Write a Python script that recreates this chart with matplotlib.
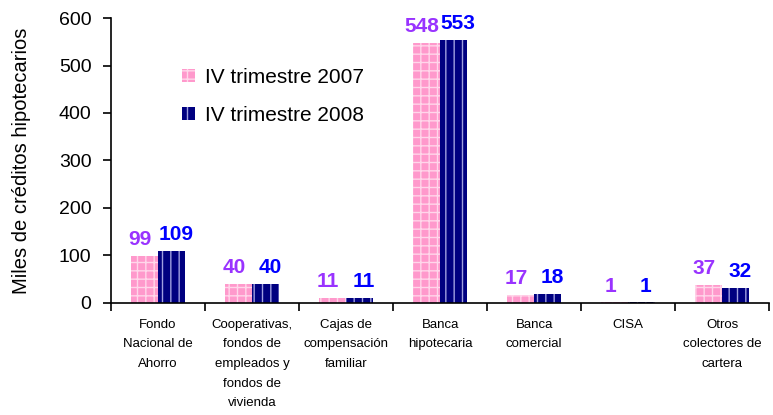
import numpy as np
import matplotlib.pyplot as plt

plt.rcParams['font.family'] = ['Liberation Sans', 'DejaVu Sans']
plt.rcParams['hatch.linewidth'] = 1.0

# data
categories = ['Fondo\nNacional de\nAhorro',
              'Cooperativas,\nfondos de\nempleados y\nfondos de\nvivienda',
              'Cajas de\ncompensación\nfamiliar',
              'Banca\nhipotecaria',
              'Banca\ncomercial',
              'CISA',
              'Otros\ncolectores de\ncartera']
vals_2007 = [99, 40, 11, 548, 17, 1, 37]
vals_2008 = [109, 40, 11, 553, 18, 1, 32]
series_names = ['IV trimestre 2007', 'IV trimestre 2008']

pink = '#FF99CC'
navy = '#000080'
purple_txt = '#9933FF'
blue_txt = '#0000FF'

fig = plt.figure(figsize=(7.73, 4.15), dpi=100)
ax = fig.add_axes([0.1436, 0.27, 0.8514, 0.6866])

x = np.arange(len(categories))
w = 0.29
ax.bar(x - w/2, vals_2007, w, color=pink, edgecolor='#FFD6EA', hatch='++',
       linewidth=0, label=series_names[0])
ax.bar(x + w/2, vals_2008, w, color=navy, edgecolor='#A0A0E0', hatch='||',
       linewidth=0, label=series_names[1])

for xi, v in zip(x, vals_2007):
    ax.annotate(str(v), (xi - w/2, v), xytext=(-3, 5), textcoords='offset points',
                ha='center', va='bottom', color=purple_txt, fontsize=15, fontweight='bold')
for xi, v in zip(x, vals_2008):
    ax.annotate(str(v), (xi + w/2, v), xytext=(3, 5), textcoords='offset points',
                ha='center', va='bottom', color=blue_txt, fontsize=15, fontweight='bold')

ax.set_xlim(-0.5, len(categories) - 0.5)
ax.set_ylim(0, 600)
ax.set_yticks(np.arange(0, 601, 100))
ax.tick_params(axis='y', labelsize=14, length=6, width=1.2, direction='out', pad=8)

# category labels between boundary ticks
ax.set_xticks(np.arange(-0.5, len(categories), 1))
ax.set_xticklabels([])
ax.tick_params(axis='x', length=6, width=1.2, direction='out')
for xi, lab in zip(x, categories):
    ax.text(xi, -0.055, lab, transform=ax.get_xaxis_transform(), ha='center', va='top',
            fontsize=9.5, linespacing=1.85)

ax.set_ylabel('Miles de créditos hipotecarios', fontsize=14.5)
ax.yaxis.set_label_coords(-0.122, 0.5)

for s in ['top', 'right']:
    ax.spines[s].set_visible(False)
for s in ['left', 'bottom']:
    ax.spines[s].set_linewidth(1.2)

ax.legend(loc='upper left', bbox_to_anchor=(0.08, 0.89), frameon=False, fontsize=15,
          handlelength=0.6, handleheight=0.6, handletextpad=0.5, labelspacing=0.9)

fig.savefig('out.png', dpi=100)
